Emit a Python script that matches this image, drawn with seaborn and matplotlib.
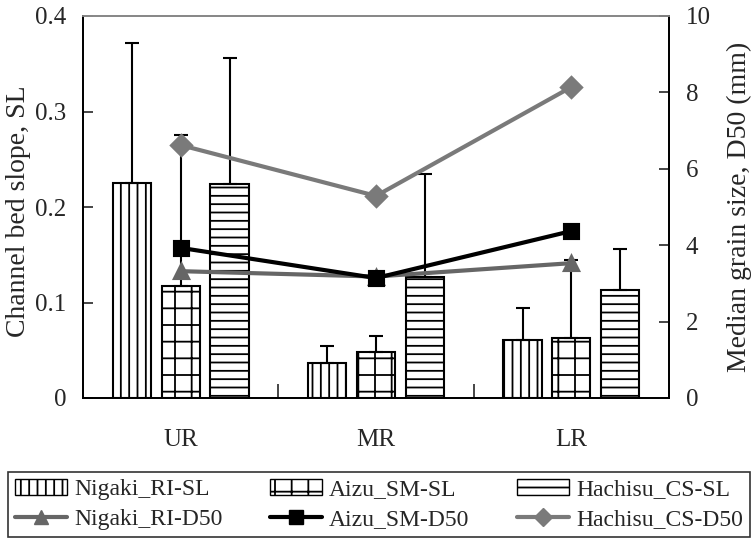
import numpy as np
import pandas as pd
import matplotlib
matplotlib.use("Agg")
import matplotlib.pyplot as plt
from matplotlib.patches import Patch
from matplotlib.lines import Line2D
import seaborn as sns

reaches = ["UR", "MR", "LR"]
sl_series = ["Nigaki_RI-SL", "Aizu_SM-SL", "Hachisu_CS-SL"]
d50_series = ["Nigaki_RI-D50", "Aizu_SM-D50", "Hachisu_CS-D50"]

nigaki_sl = [0.225, 0.037, 0.061]
aizu_sl = [0.117, 0.048, 0.063]
hachisu_sl = [0.224, 0.127, 0.113]

nigaki_sl_sd = [0.147, 0.017, 0.033]
aizu_sl_sd = [0.158, 0.017, 0.082]
hachisu_sl_sd = [0.132, 0.108, 0.043]

nigaki_d50 = [3.32, 3.18, 3.53]
aizu_d50 = [3.93, 3.14, 4.37]
hachisu_d50 = [6.62, 5.29, 8.14]

sns.set_style("ticks")
plt.rcParams["font.family"] = ["Liberation Serif", "DejaVu Serif"]
plt.rcParams["hatch.linewidth"] = 1.3

sl_df = pd.DataFrame({
    "reach": reaches * 3,
    "series": [s for s in sl_series for _ in reaches],
    "SL": nigaki_sl + aizu_sl + hachisu_sl,
})
sd_lists = [nigaki_sl_sd, aizu_sl_sd, hachisu_sl_sd]

d50_df = pd.DataFrame({
    "reach": reaches * 3,
    "series": [s for s in d50_series for _ in reaches],
    "D50": nigaki_d50 + aizu_d50 + hachisu_d50,
})

fig = plt.figure(figsize=(7.56, 5.40), dpi=100)
ax = fig.add_axes([83 / 756, 1 - 398 / 540, (669 - 83) / 756, (398 - 16) / 540])

sns.barplot(data=sl_df, x="reach", y="SL", hue="series", order=reaches,
            hue_order=sl_series, palette=["white"] * 3, edgecolor="black",
            linewidth=1.5, width=0.75, gap=0.22, errorbar=None, legend=False, ax=ax)

hatches = ["||", "+", "--"]
for cont, h, sd in zip(ax.containers, hatches, sd_lists):
    xs, ys = [], []
    for p in cont.patches:
        p.set_hatch(h)
        xs.append(p.get_x() + p.get_width() / 2)
        ys.append(p.get_height())
    ax.errorbar(xs, ys, yerr=[np.zeros(len(sd)), sd], fmt="none", ecolor="black",
                elinewidth=1.5, capsize=5, capthick=1.5, zorder=3)

ax.set_xlim(-0.5, 2.5)
ax.set_ylim(0, 0.4)
ax.set_yticks([0, 0.1, 0.2, 0.3, 0.4])
ax.set_yticklabels(["0", "0.1", "0.2", "0.3", "0.4"])
ax.set_xticks([0, 1, 2])
ax.set_xticklabels(reaches)
ax.set_xticks([0.5, 1.5], minor=True)
ax.tick_params(axis="x", which="major", length=0, pad=22, labelsize=18)
ax.tick_params(axis="x", which="minor", direction="in", length=10, width=1.2)
ax.tick_params(axis="y", direction="in", length=7, width=1.2, pad=12, labelsize=18)
ax.set_xlabel("")
ax.set_ylabel("Channel bed slope, SL", fontsize=20)
ax.yaxis.set_label_coords(-0.088, 0.49)

ax2 = ax.twinx()
sns.pointplot(data=d50_df, x="reach", y="D50", hue="series", order=reaches,
              hue_order=d50_series, palette=["#666666", "black", "#7a7a7a"],
              markers=["^", "s", "D"], linestyles=["-", "-", "-"],
              markersize=10, linewidth=3, errorbar=None, legend=False, ax=ax2)
ax2.set_xlim(-0.5, 2.5)
ax2.set_ylim(0, 10)
ax2.set_yticks([0, 2, 4, 6, 8, 10])
ax2.tick_params(axis="y", direction="in", length=7, width=1.2, pad=12, labelsize=18)
ax2.set_ylabel("Median grain size, D50 (mm)", fontsize=20, labelpad=12)
ax2.set_xlabel("")

for a in (ax, ax2):
    for s in a.spines.values():
        s.set_color("black")
        s.set_linewidth(1.3)
    a.spines["top"].set_color("#888888")

handles = [
    Patch(facecolor="white", edgecolor="black", hatch="||", label=sl_series[0]),
    Line2D([], [], color="#666666", lw=3, marker="^", ms=10, label=d50_series[0]),
    Patch(facecolor="white", edgecolor="black", hatch="+", label=sl_series[1]),
    Line2D([], [], color="black", lw=3, marker="s", ms=10, label=d50_series[1]),
    Patch(facecolor="white", edgecolor="black", hatch="--", label=sl_series[2]),
    Line2D([], [], color="#7a7a7a", lw=3, marker="D", ms=9, label=d50_series[2]),
]
leg = fig.legend(handles=handles, ncol=3, loc="lower left",
                 bbox_to_anchor=(8 / 756, 3 / 540, 742 / 756, 75 / 540),
                 mode="expand", borderaxespad=0, frameon=True, fancybox=False,
                 edgecolor="black", fontsize=17, handlelength=2.2, handletextpad=0.3,
                 labelspacing=0.35, columnspacing=1.0, borderpad=0.3)
leg.get_frame().set_linewidth(1.2)

fig.savefig("out.png", dpi=100)
